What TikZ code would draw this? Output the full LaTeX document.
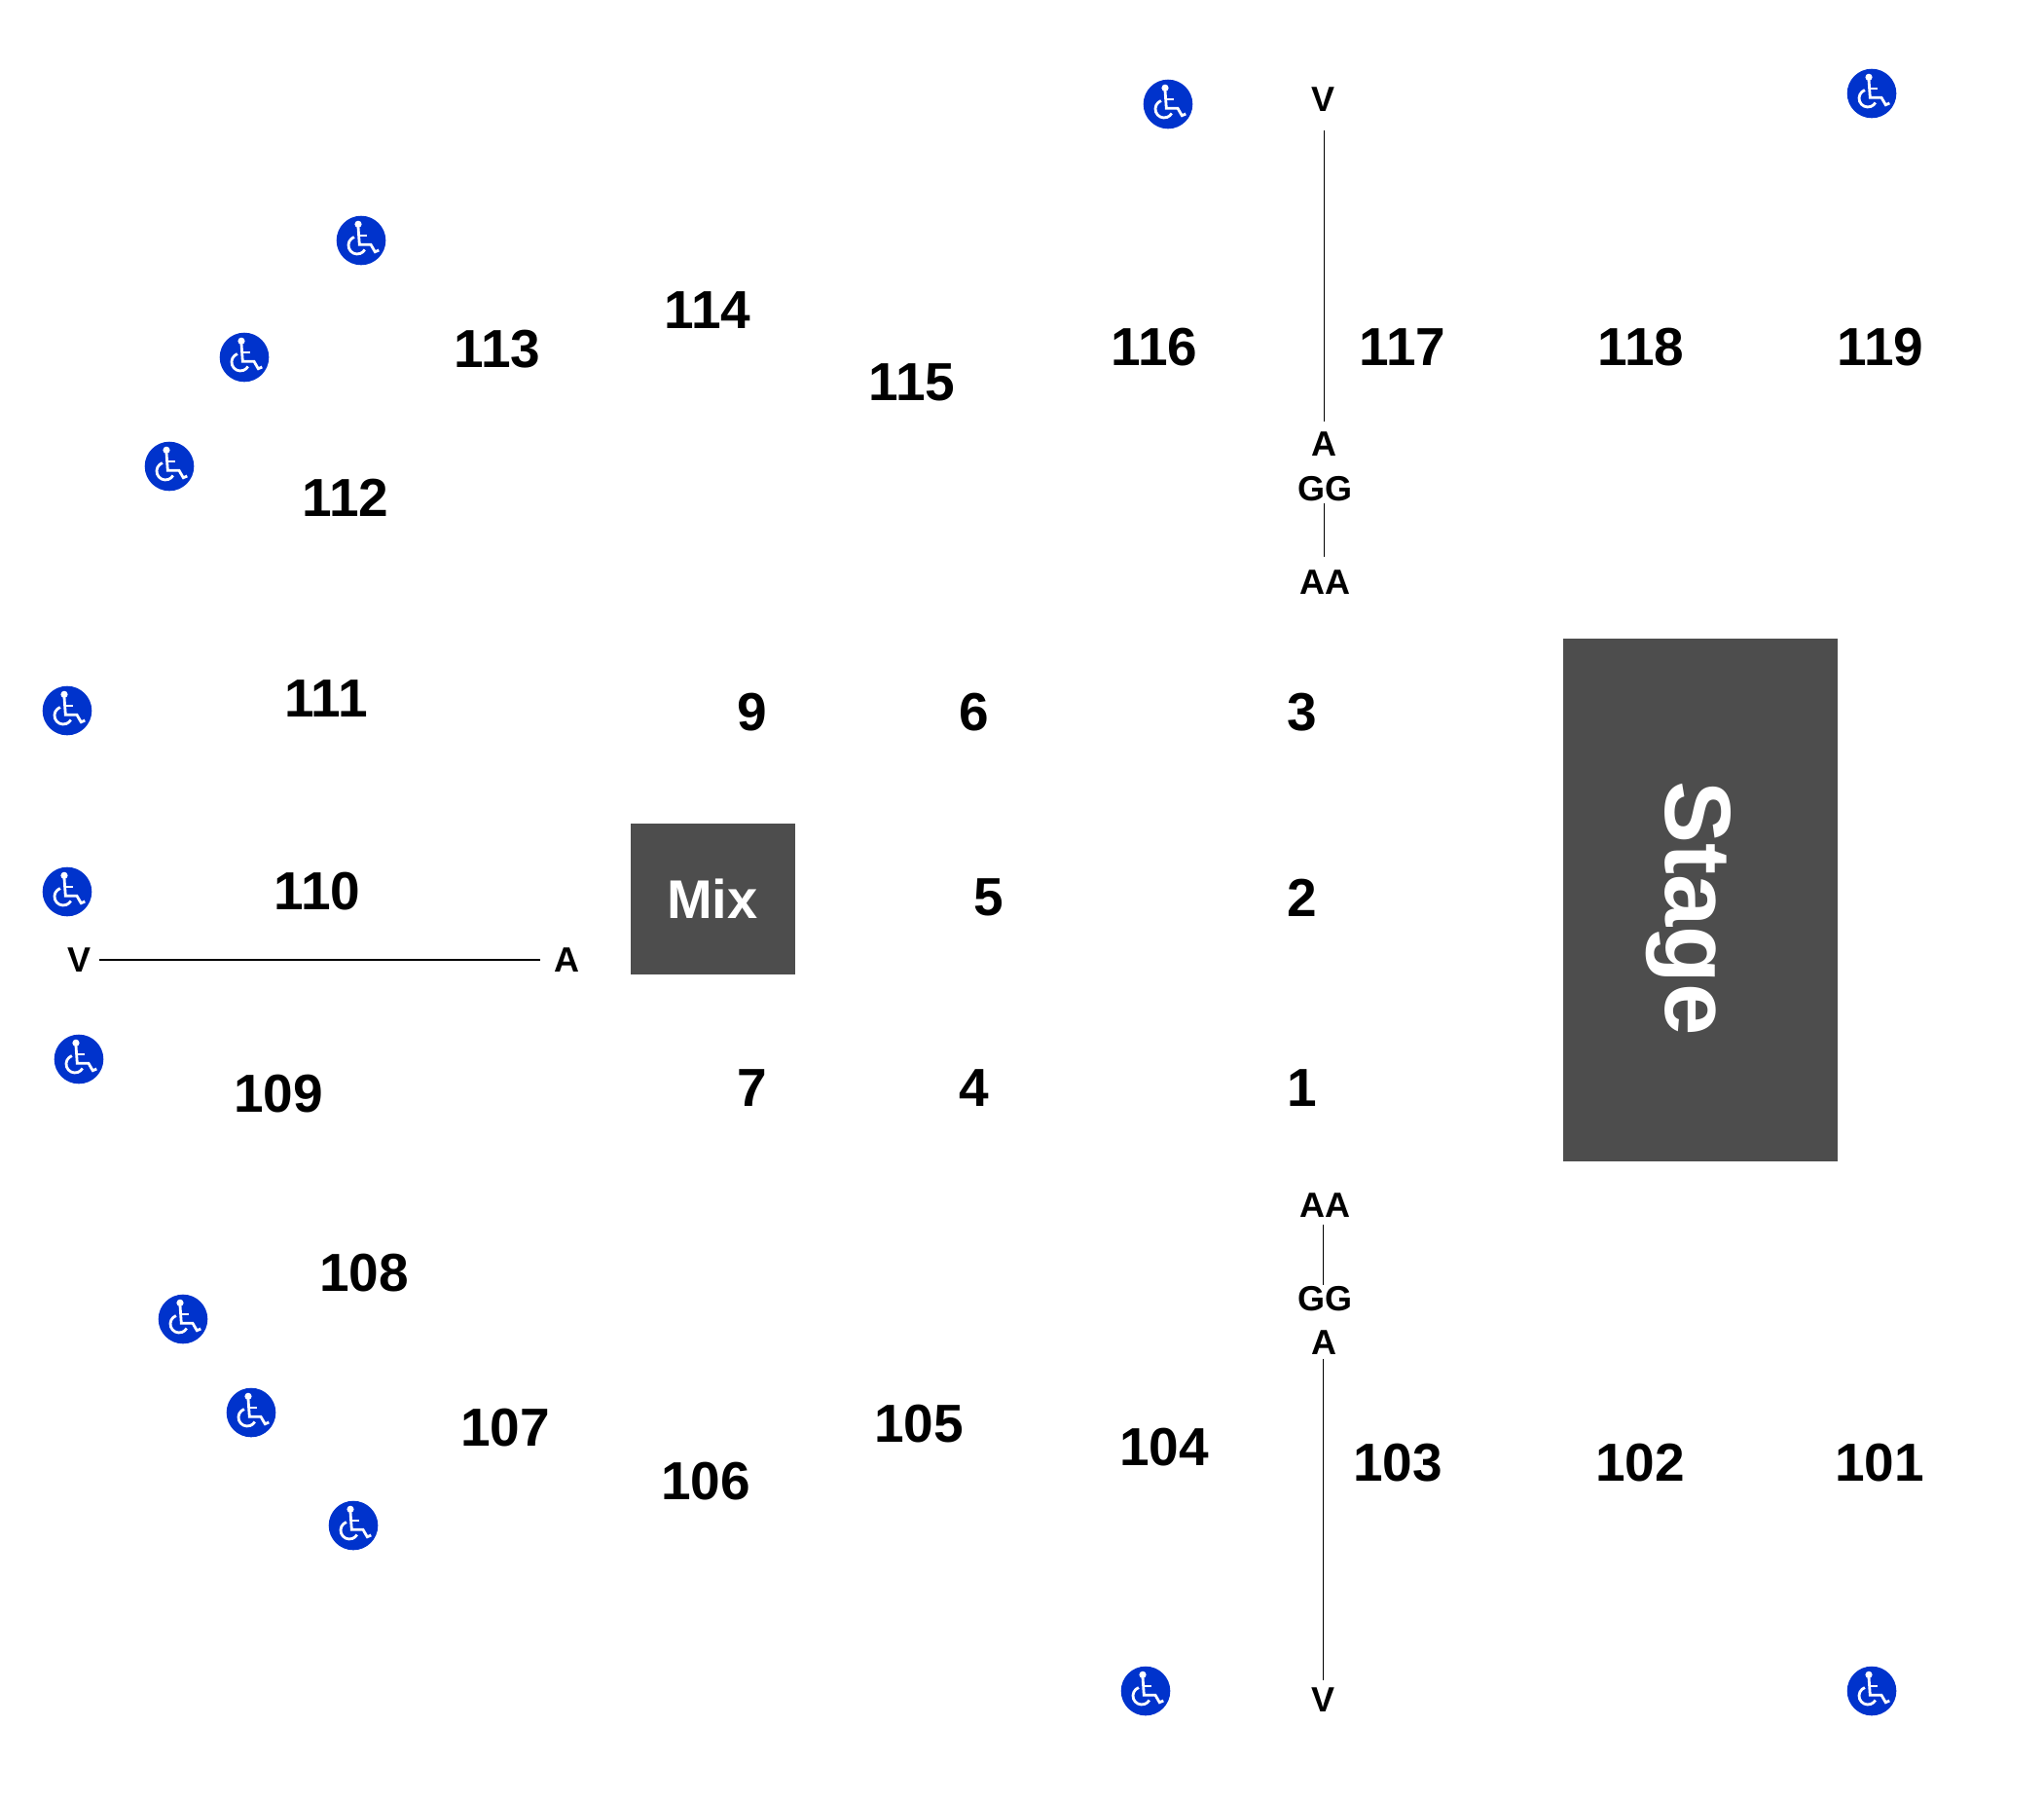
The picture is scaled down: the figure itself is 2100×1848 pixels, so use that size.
\documentclass[tikz,border=0pt]{standalone}
\usepackage{fontspec}
\setmainfont{Liberation Sans}
\definecolor{accessblue}{HTML}{0033CC}
\definecolor{blockgrey}{HTML}{4D4D4D}
\tikzset{
    section/.style={inner sep=0pt,font=\fontsize{55}{60}\selectfont\bfseries},
    rowmark/.style={inner sep=0pt,font=\fontsize{36}{40}\selectfont\bfseries},
    block/.style={fill=blockgrey,text=white,inner sep=0pt,font=\bfseries},
    rowline/.style={line width=1.1pt,black},
    wheelmark/.style={draw=white,line width=2.8pt},
    wheelchair/.pic={
        \fill [accessblue] (0,0) circle [radius=25.3pt];
        \fill [white] (-3,-16.7) circle [radius=3.6pt];
        \draw [wheelmark] (-3,-14) -- (-1.7,4.3) -- (10,4.3) -- (14.3,11.7) -- (18.3,10);
        \draw [wheelmark] (-1.7,-5) -- (6,-5);
        \draw [wheelmark] (-7.1,-3.5) arc [start angle=110,end angle=330,radius=9pt];
    }
}
\begin{document}
\begin{tikzpicture}[x=1pt,y=-1pt]
    \useasboundingbox (0,0) rectangle (2100,1848);

    % Blocks
    \node (stage) [block,minimum width=282pt,minimum height=537pt] at (1747,924) {};
    \node (stagetext) [text=white,inner sep=0pt,rotate=-90,font=\fontsize{96}{100}\selectfont\bfseries] at (1735,933) {Stage};
    \node (mix) [block,minimum width=169pt,minimum height=155pt,font=\fontsize{56}{60}\selectfont\bfseries] at (732,923) {Mix};

    % Upper sections
    \node (s119) [section] at (1932,357) {119};
    \node (s118) [section] at (1686,357) {118};
    \node (s117) [section] at (1441,357) {117};
    \node (s116) [section] at (1186,357) {116};
    \node (s115) [section] at (937,393) {115};
    \node (s114) [section] at (727,319) {114};
    \node (s113) [section] at (511,359) {113};
    \node (s112) [section] at (355,511) {112};
    \node (s111) [section] at (335,718) {111};
    \node (s110) [section] at (326,916) {110};

    % Lower sections
    \node (s109) [section] at (286,1124) {109};
    \node (s108) [section] at (374,1308) {108};
    \node (s107) [section] at (519,1467) {107};
    \node (s106) [section] at (725,1522) {106};
    \node (s105) [section] at (944,1463) {105};
    \node (s104) [section] at (1196,1487) {104};
    \node (s103) [section] at (1436,1503) {103};
    \node (s102) [section] at (1685,1503) {102};
    \node (s101) [section] at (1931,1503) {101};

    % Floor sections
    \node (s9) [section] at (773,732) {9};
    \node (s6) [section] at (1001,732) {6};
    \node (s3) [section] at (1338,732) {3};
    \node (s5) [section] at (1016,922) {5};
    \node (s2) [section] at (1338,922) {2};
    \node (s7) [section] at (773,1118) {7};
    \node (s4) [section] at (1001,1118) {4};
    \node (s1) [section] at (1338,1118) {1};

    % Row letters
    \node (vtop) [rowmark] at (1359,102) {V};
    \node (atop) [rowmark] at (1360,456) {A};
    \node (ggtop) [rowmark] at (1361,502) {GG};
    \node (aatop) [rowmark] at (1361,598) {AA};
    \node (aabot) [rowmark] at (1361,1238) {AA};
    \node (ggbot) [rowmark] at (1361,1334) {GG};
    \node (abot) [rowmark] at (1360,1379) {A};
    \node (vbot) [rowmark] at (1359,1746) {V};
    \node (vleft) [rowmark] at (82,986) {V};
    \node (aleft) [rowmark] at (582,986) {A};

    % Row lines
    \draw [rowline,shorten <=19pt,shorten >=10pt] ([xshift=1.3pt]vtop.south) -- ([xshift=0.3pt]atop.north);
    \draw [rowline,shorten <=2pt,shorten >=13pt] ([xshift=-0.7pt]ggtop.south) -- ([xshift=-0.7pt]aatop.north);
    \draw [rowline,shorten <=7pt,shorten >=1pt] ([xshift=-1.7pt]aabot.south) -- ([xshift=-1.7pt]ggbot.north);
    \draw [rowline,shorten <=4pt,shorten >=7pt] ([xshift=-0.7pt]abot.south) -- ([xshift=0.3pt]vbot.north);
    \draw [rowline,shorten <=8pt,shorten >=14pt] (vleft.east) -- (aleft.west);

    % Accessible seating
    \pic (w1) at (1200,107) {wheelchair};
    \pic (w2) at (1923,96) {wheelchair};
    \pic (w3) at (371,247) {wheelchair};
    \pic (w4) at (251,367) {wheelchair};
    \pic (w5) at (174,479) {wheelchair};
    \pic (w6) at (69,730) {wheelchair};
    \pic (w7) at (69,916) {wheelchair};
    \pic (w8) at (81,1088) {wheelchair};
    \pic (w9) at (188,1355) {wheelchair};
    \pic (w10) at (258,1451) {wheelchair};
    \pic (w11) at (363,1567) {wheelchair};
    \pic (w12) at (1177,1737) {wheelchair};
    \pic (w13) at (1923,1737) {wheelchair};
\end{tikzpicture}
\end{document}
